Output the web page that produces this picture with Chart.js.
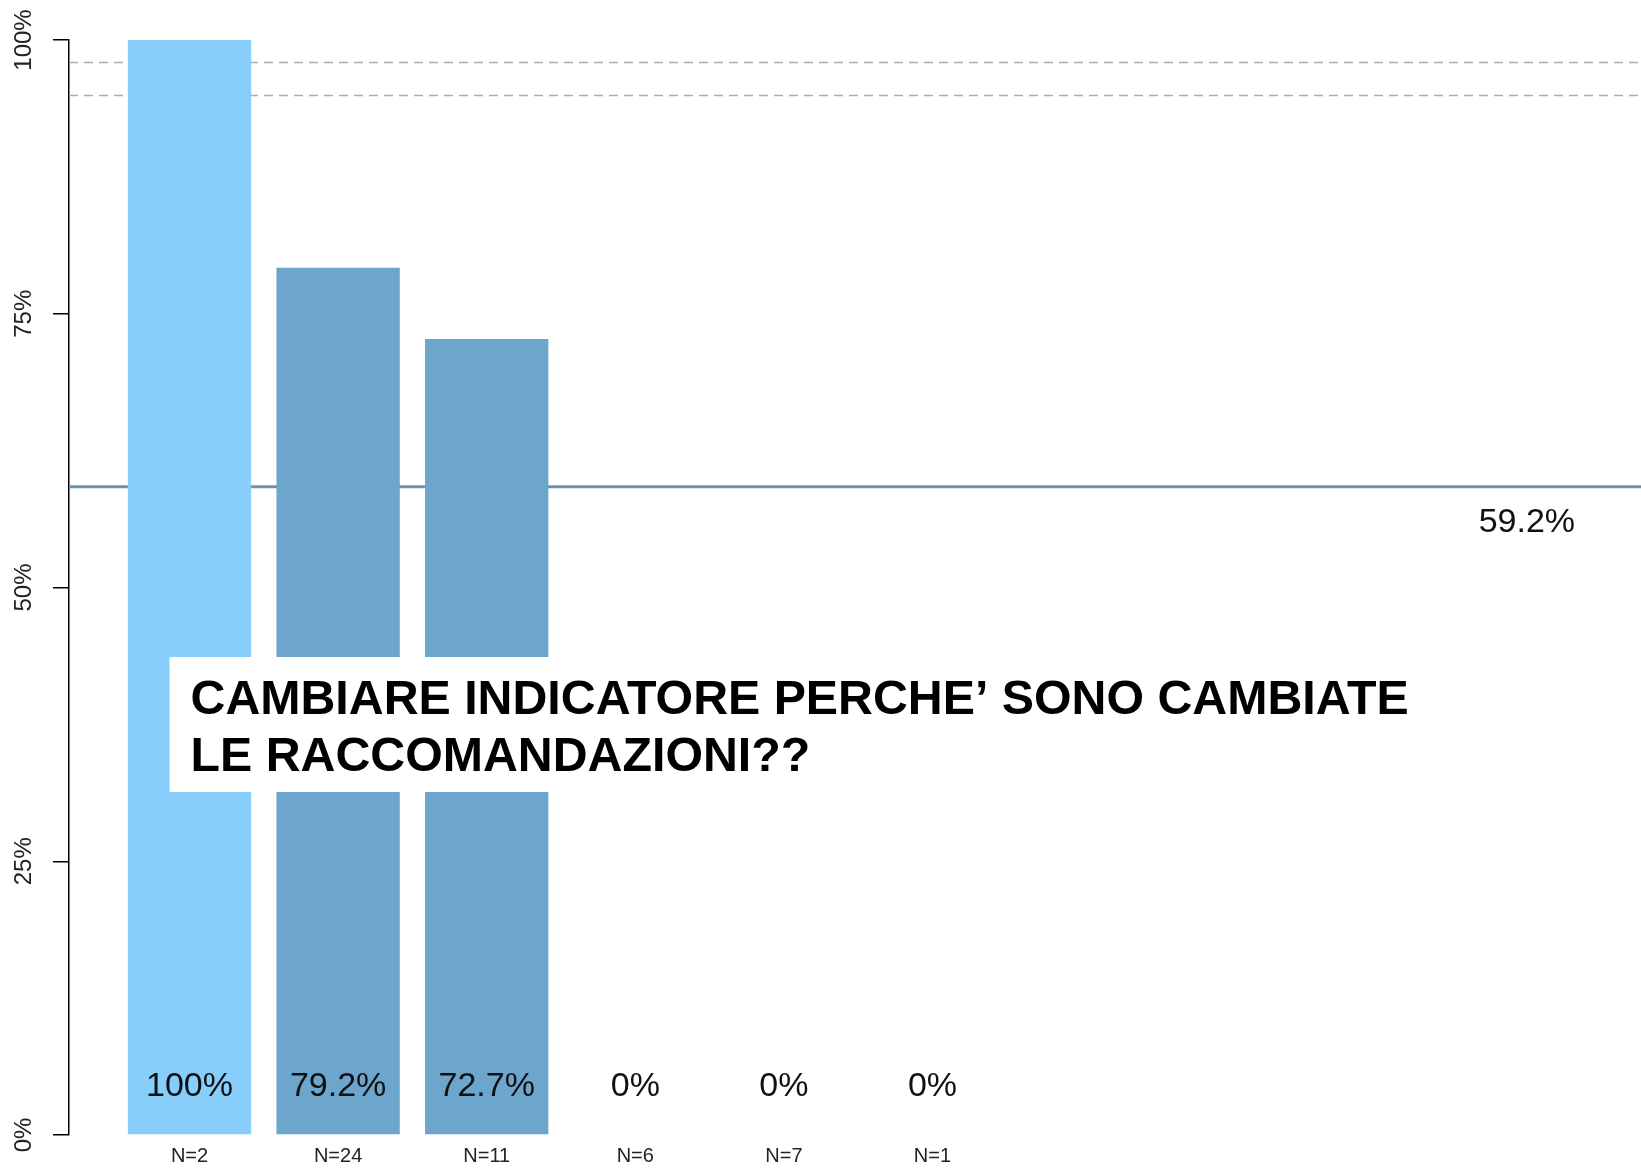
<!DOCTYPE html>
<html><head><meta charset="utf-8">
<script src="https://cdn.jsdelivr.net/npm/chart.js@4/dist/chart.umd.min.js"></script>
<style>html,body{margin:0;padding:0;background:#fff;} canvas{display:block;}</style>
</head><body>
<canvas id="c" width="1641" height="1168"></canvas>
<script>
// ---- data ----
const nLabels = ['N=2', 'N=24', 'N=11', 'N=6', 'N=7', 'N=1'];
const values = [100, 79.2, 72.7, 0, 0, 0];
const highlightIndex = 0;
const avgValue = 59.2;
const refLines = [98, 95];
const yTicks = [0, 25, 50, 75, 100];
const noteLines = ['CAMBIARE INDICATORE PERCHE\u2019 SONO CAMBIATE', 'LE RACCOMANDAZIONI??'];

const FONT = '"Liberation Sans", Arial, Helvetica, sans-serif';
Chart.defaults.font.family = FONT;

const fmtPct = v => (Math.round(v * 10) / 10) + '%';

const overlay = {
  id: 'overlay',
  beforeDatasetsDraw(chart) {
    const {ctx, chartArea: a, scales: {y}} = chart;
    ctx.save();
    ctx.strokeStyle = '#9db1b5';
    ctx.lineWidth = 1.5;
    ctx.setLineDash([9, 6]);
    refLines.forEach(v => {
      const py = Math.round(y.getPixelForValue(v)) + 0.5;
      ctx.beginPath(); ctx.moveTo(a.left, py); ctx.lineTo(a.right, py); ctx.stroke();
    });
    ctx.setLineDash([]);
    ctx.strokeStyle = '#6b93b0';
    ctx.lineWidth = 3;
    const py = y.getPixelForValue(avgValue);
    ctx.beginPath(); ctx.moveTo(a.left, py); ctx.lineTo(a.right, py); ctx.stroke();
    ctx.restore();
  },
  afterDatasetsDraw(chart) {
    const {ctx, scales: {x, y}} = chart;
    const meta = chart.getDatasetMeta(0);
    ctx.save();
    ctx.font = '34px ' + FONT;
    ctx.fillStyle = '#101010';
    ctx.textAlign = 'center';
    ctx.textBaseline = 'middle';
    meta.data.forEach((bar, i) => {
      ctx.fillText(fmtPct(values[i]), bar.x, y.getPixelForValue(4.45));
    });
    ctx.fillText(fmtPct(avgValue), x.getPixelForValue(9.0), y.getPixelForValue(avgValue) + 36);
    ctx.restore();
  },
  afterDraw(chart) {
    const {ctx, chartArea: a} = chart;
    ctx.save();
    ctx.fillStyle = '#ffffff';
    ctx.fillRect(a.left + 100.5, 657, 1260, 135);
    ctx.font = 'bold 48.3px ' + FONT;
    ctx.fillStyle = '#000';
    ctx.textAlign = 'left';
    ctx.textBaseline = 'alphabetic';
    noteLines.forEach((t, i) => ctx.fillText(t, a.left + 121.5, 714 + i * 57));
    ctx.restore();
  }
};

new Chart(document.getElementById('c'), {
  type: 'bar',
  data: {
    datasets: [{
      data: values.map((v, i) => ({x: i, y: v})),
      backgroundColor: values.map((v, i) => i === highlightIndex ? '#87CEFA' : '#6CA6CD'),
      borderWidth: 0,
      barPercentage: 0.83,
      categoryPercentage: 1
    }]
  },
  options: {
    responsive: false,
    animation: false,
    devicePixelRatio: 1,
    layout: {padding: {top: 40, left: 0, right: 0, bottom: 0}},
    plugins: {legend: {display: false}, tooltip: {enabled: false}},
    scales: {
      x: {
        type: 'linear',
        min: -0.811,
        max: 9.768,
        offset: false,
        grid: {display: false, drawTicks: false},
        border: {display: false},
        afterBuildTicks: s => { s.ticks = nLabels.map((_, i) => ({value: i})); },
        ticks: {
          callback: v => nLabels[v] ?? '',
          font: {size: 20},
          color: '#222',
          padding: 9,
          autoSkip: false,
          maxRotation: 0
        },
        afterFit: s => { s.height = 33; }
      },
      y: {
        min: 0,
        max: 100,
        afterBuildTicks: s => { s.ticks = yTicks.map(v => ({value: v})); },
        ticks: {
          callback: v => v + '%',
          font: {size: 24},
          color: '#222',
          minRotation: 90,
          maxRotation: 90,
          crossAlign: 'center',
          padding: -2
        },
        grid: {drawOnChartArea: false, drawTicks: true, tickLength: 16, color: '#000', lineWidth: 1.5},
        border: {display: true, color: '#000', width: 1.5},
        afterFit: s => { s.width = 69; }
      }
    }
  },
  plugins: [overlay]
});
</script>
</body></html>
